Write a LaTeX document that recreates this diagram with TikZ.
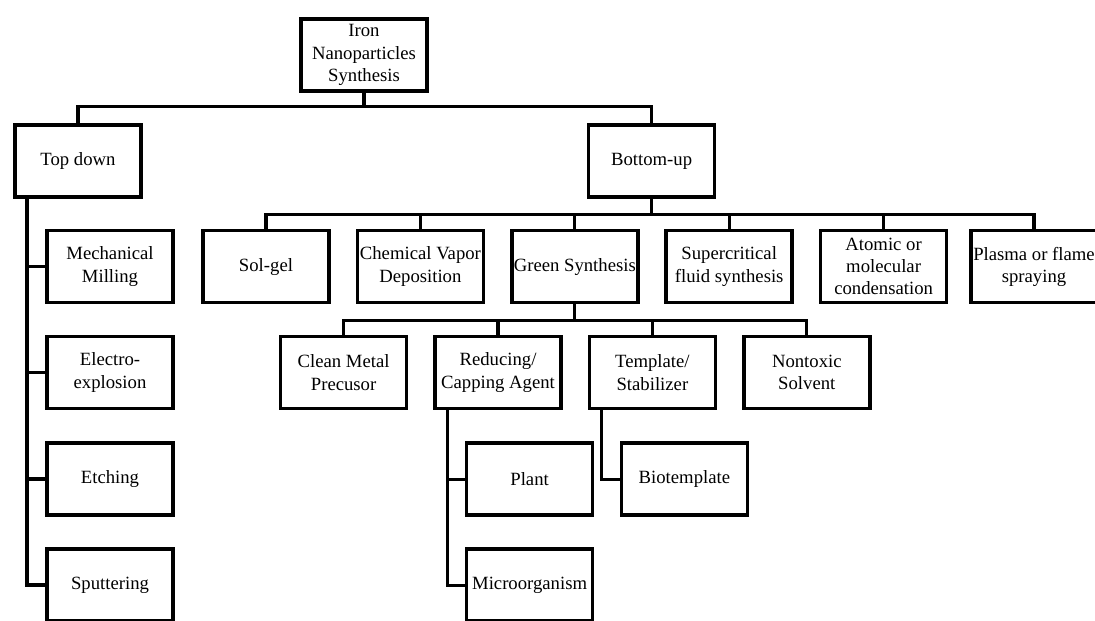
\documentclass[tikz,border=0pt]{standalone}
\usepackage{fontspec}
\setmainfont{Liberation Serif}

\begin{document}
\begin{tikzpicture}[line width=2.3pt,
  box/.style={draw, line width=2.6pt, minimum width=3.15cm, minimum height=1.8cm,
    inner sep=1pt, align=center, font=\fontsize{13.3}{15.8}\selectfont}]
\useasboundingbox (0,0) rectangle (27.375,-15.5);
\draw (9.1,-1.375) node[box] (iron) {Iron\\Nanoparticles\\Synthesis};
%% Top down
\draw (iron) ++ (-7.15,-2.65) node[box] (topdown) {Top down};
\path[draw] (iron.south) -- ++(0,-0.35) -| (topdown.north);
%% Bottom-up
\draw (iron) ++ (7.19,-2.65) node[box] (bottomup) {Bottom-up};
\path[draw] (iron.south) -- ++(0,-0.35) -| (bottomup.north);

%%%%%%%%%%%%%%%%%%%%%% Top down

\draw (topdown) ++ (0.8,-2.64) node[box] (milling) {Mechanical\\Milling};
\draw (milling) ++ (0,-2.65) node[box] (explosion) {Electro-\\explosion};
\draw (explosion) ++ (0,-2.66) node[box] (etching) {Etching};
\draw (etching) ++ (0,-2.65) node[box] (sputter) {Sputtering};
\path[draw] (topdown.south) ++ (-1.275,0) coordinate (tdtrunk) |- (sputter.west);
\path[draw] (tdtrunk |- milling.west) -- (milling.west);
\path[draw] (tdtrunk |- explosion.west) -- (explosion.west);
\path[draw] (tdtrunk |- etching.west) -- (etching.west);

%%%%%%%%%%%%%%%%%%%%%% Bottom-up

\draw (bottomup) ++ (-9.64,-2.64) node[box] (solgel) {Sol-gel};
\path[draw] (bottomup.south) -- ++(0,-0.39) -| (solgel.north);
%% CVD
\draw (solgel) ++ (3.86,0) node[box] (cvd) {Chemical Vapor\\Deposition};
\path[draw] (bottomup.south) -- ++(0,-0.39) -| (cvd.north);
%% Green
\draw (cvd) ++ (3.86,0) node[box] (green) {Green Synthesis};
\path[draw] (bottomup.south) -- ++(0,-0.39) -| (green.north);
%% Supercritical
\draw (green) ++ (3.86,0) node[box] (supercrit) {Supercritical\\fluid synthesis};
\path[draw] (bottomup.south) -- ++(0,-0.39) -| (supercrit.north);
%% Atomic
\draw (supercrit) ++ (3.86,0) node[box] (atomic) {Atomic or\\molecular\\condensation};
\path[draw] (bottomup.south) -- ++(0,-0.39) -| (atomic.north);
%% Plasma
\draw (atomic) ++ (3.76,0) node[box] (plasma) {Plasma or flame\\spraying};
\path[draw] (bottomup.south) -- ++(0,-0.39) -| (plasma.north);

%%%%%%%%%%%%%%%%%%%%%% Green Synthesis

\draw (green) ++ (-5.78,-2.65) node[box] (precursor) {Clean Metal\\Precusor};
\path[draw] (green.south) -- ++(0,-0.4) -| (precursor.north);
%% Reducing
\draw (precursor) ++ (3.86,0) node[box] (reducing) {Reducing/\\Capping Agent};
\path[draw] (green.south) -- ++(0,-0.4) -| (reducing.north);
%% Template
\draw (reducing) ++ (3.86,0) node[box] (template) {Template/\\Stabilizer};
\path[draw] (green.south) -- ++(0,-0.4) -| (template.north);
%% Solvent
\draw (template) ++ (3.86,0) node[box] (solvent) {Nontoxic\\Solvent};
\path[draw] (green.south) -- ++(0,-0.4) -| (solvent.north);

%%%%%%%%%%%%%%%%%%%%%% Reducing / Template

\draw (reducing) ++ (0.79,-2.665) node[box] (plant) {Plant};
\draw (plant) ++ (0,-2.65) node[box] (microbe) {Microorganism};
\path[draw] (reducing.south) ++ (-1.26,0) coordinate (redtrunk) |- (microbe.west);
\path[draw] (redtrunk |- plant.west) -- (plant.west);
%% Biotemplate
\draw (template) ++ (0.8,-2.665) node[box] (biotemplate) {Biotemplate};
\path[draw] (template.south) ++ (-1.27,0) |- (biotemplate.west);
\end{tikzpicture}
\end{document}
